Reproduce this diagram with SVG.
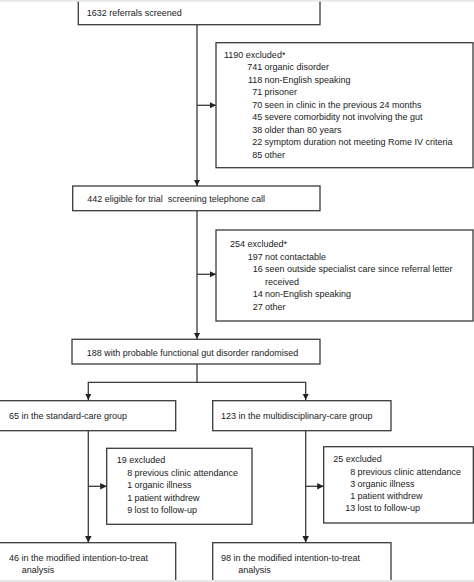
<svg xmlns="http://www.w3.org/2000/svg" width="474" height="582" viewBox="0 0 474 582">
<style>
.box{fill:#fff;stroke:#3a3a3a;stroke-width:1.3}
.ln{fill:none;stroke:#3a3a3a;stroke-width:1.3}
text{font-family:"Liberation Sans",Arial,sans-serif;font-size:9px;fill:#222}
.n{text-anchor:end}
</style>
<defs>
<marker id="ah" viewBox="0 0 10 10" refX="10" refY="5" markerWidth="6.5" markerHeight="6.5" markerUnits="userSpaceOnUse" orient="auto">
<path d="M0,0 L10,5 L0,10 Z" fill="#222"/>
</marker>
</defs>
<rect width="474" height="582" fill="#fff"/>
<g id="connectors">
<line class="ln" x1="197" y1="25" x2="197" y2="186" marker-end="url(#ah)"/>
<line class="ln" x1="197" y1="105.3" x2="216" y2="105.3" marker-end="url(#ah)"/>
<line class="ln" x1="197" y1="210.7" x2="197" y2="339" marker-end="url(#ah)"/>
<line class="ln" x1="197" y1="274.3" x2="216" y2="274.3" marker-end="url(#ah)"/>
<polyline class="ln" points="197,364 197,382.3 88.3,382.3 88.3,400" marker-end="url(#ah)"/>
<polyline class="ln" points="197,382.3 305.7,382.3 305.7,400" marker-end="url(#ah)"/>
<line class="ln" x1="88.3" y1="430.7" x2="88.3" y2="542.5" marker-end="url(#ah)"/>
<line class="ln" x1="88.3" y1="486.3" x2="106.7" y2="486.3" marker-end="url(#ah)"/>
<line class="ln" x1="305.7" y1="430.7" x2="305.7" y2="542.5" marker-end="url(#ah)"/>
<line class="ln" x1="305.7" y1="486.3" x2="323.7" y2="486.3" marker-end="url(#ah)"/>
</g>
<g id="screened">
<rect class="box" x="78.3" y="-5" width="241.7" height="29.7"/>
<text x="86.7" y="15.5">1632 referrals screened</text>
</g>
<g id="excluded1">
<rect class="box" x="216" y="42.7" width="257" height="125"/>
<text x="224" y="57.5">1190 excluded*</text>
<text class="n" x="262.3" y="70">741</text><text x="264.5" y="70">organic disorder</text>
<text class="n" x="262.3" y="82.5">118</text><text x="264.5" y="82.5">non-English speaking</text>
<text class="n" x="262.3" y="95">71</text><text x="264.5" y="95">prisoner</text>
<text class="n" x="262.3" y="107.5">70</text><text x="264.5" y="107.5">seen in clinic in the previous 24 months</text>
<text class="n" x="262.3" y="120">45</text><text x="264.5" y="120">severe comorbidity not involving the gut</text>
<text class="n" x="262.3" y="132.5">38</text><text x="264.5" y="132.5">older than 80 years</text>
<text class="n" x="262.3" y="145">22</text><text x="264.5" y="145">symptom duration not meeting Rome IV criteria</text>
<text class="n" x="262.3" y="157.5">85</text><text x="264.5" y="157.5">other</text>
</g>
<g id="eligible">
<rect class="box" x="72.7" y="186" width="247.3" height="24.7"/>
<text x="87.3" y="201.5" xml:space="preserve">442 eligible for trial  screening telephone call</text>
</g>
<g id="excluded2">
<rect class="box" x="216" y="230" width="257" height="91"/>
<text x="230" y="247">254 excluded*</text>
<text class="n" x="262.7" y="259.5">197</text><text x="265" y="259.5">not contactable</text>
<text class="n" x="262.7" y="272">16</text><text x="265" y="272">seen outside specialist care since referral letter</text>
<text x="265" y="284.5">received</text>
<text class="n" x="262.7" y="297">14</text><text x="265" y="297">non-English speaking</text>
<text class="n" x="262.7" y="309.5">27</text><text x="265" y="309.5">other</text>
</g>
<g id="randomised">
<rect class="box" x="72" y="339.3" width="248" height="24.7"/>
<text x="86.7" y="355.5">188 with probable functional gut disorder randomised</text>
</g>
<g id="standard">
<rect class="box" x="-1" y="400.7" width="176.7" height="30"/>
<text x="9" y="418.5">65 in the standard-care group</text>
</g>
<g id="multi">
<rect class="box" x="212.7" y="400.7" width="178.3" height="30"/>
<text x="221" y="418.5">123 in the multidisciplinary-care group</text>
</g>
<g id="excluded3">
<rect class="box" x="106.7" y="448.3" width="145.3" height="76"/>
<text x="116.7" y="463">19 excluded</text>
<text class="n" x="132.3" y="476">8</text><text x="134.5" y="476">previous clinic attendance</text>
<text class="n" x="132.3" y="488.3">1</text><text x="134.5" y="488.3">organic illness</text>
<text class="n" x="132.3" y="500.7">1</text><text x="134.5" y="500.7">patient withdrew</text>
<text class="n" x="132.3" y="513">9</text><text x="134.5" y="513">lost to follow-up</text>
</g>
<g id="excluded4">
<rect class="box" x="323.7" y="446.7" width="149.6" height="76.3"/>
<text x="333.3" y="462">25 excluded</text>
<text class="n" x="355.3" y="474.5">8</text><text x="357.5" y="474.5">previous clinic attendance</text>
<text class="n" x="355.3" y="486.8">3</text><text x="357.5" y="486.8">organic illness</text>
<text class="n" x="355.3" y="499">1</text><text x="357.5" y="499">patient withdrew</text>
<text class="n" x="355.3" y="511.3">13</text><text x="357.5" y="511.3">lost to follow-up</text>
</g>
<g id="itt-standard">
<rect class="box" x="-1" y="542.7" width="176.7" height="50"/>
<text x="9" y="561">46 in the modified intention-to-treat</text>
<text x="21.7" y="573">analysis</text>
</g>
<g id="itt-multi">
<rect class="box" x="212.7" y="542.7" width="178.3" height="50"/>
<text x="221" y="561">98 in the modified intention-to-treat</text>
<text x="238.3" y="573">analysis</text>
</g>
<rect x="0" y="0" width="474" height="1.7" fill="#e6e6e6"/>
<rect x="0" y="580" width="474" height="2" fill="#e6e6e6"/>
</svg>
